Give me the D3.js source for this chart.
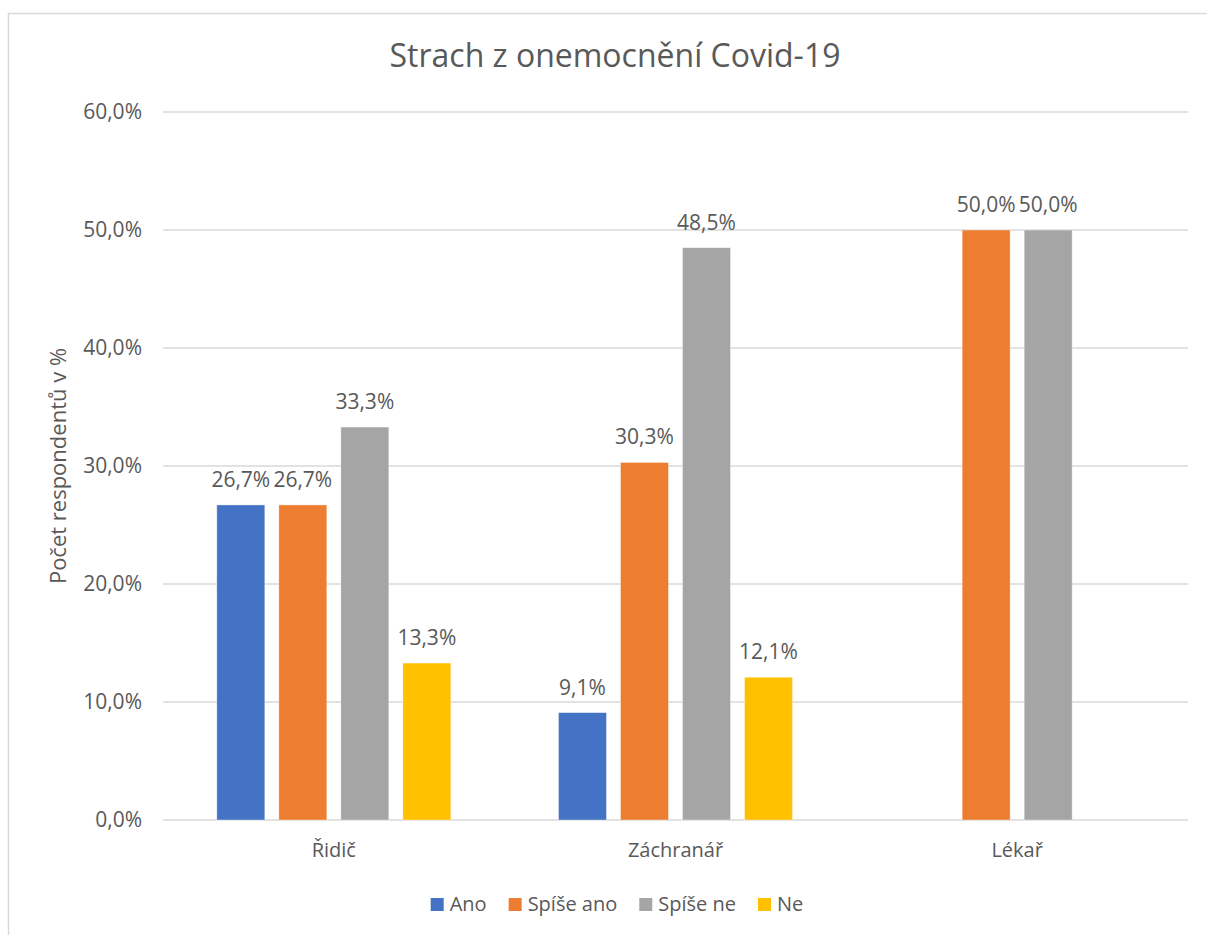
<html>
<head>
<meta charset="UTF-8">
<title>Strach z onemocnění Covid-19</title>
<style>
  body { margin: 0; background: #fff; }
  svg text { font-family: "Open Sans", "Noto Sans", sans-serif; fill: #595959; }
</style>
</head>
<body>
<svg id="chart"></svg>
<script src="https://d3js.org/d3.v7.min.js"></script>
<script>
// data
const categories = ["Řidič", "Záchranář", "Lékař"];
const seriesNames = ["Ano", "Spíše ano", "Spíše ne", "Ne"];
const seriesColors = ["#4472C4", "#ED7D31", "#A5A5A5", "#FFC000"];
// values per series, in the order of categories (null = empty cell)
const ano = [26.7, 9.1, null];
const spiseAno = [26.7, 30.3, 50.0];
const spiseNe = [33.3, 48.5, 50.0];
const ne = [13.3, 12.1, null];
const yTicks = [0, 10, 20, 30, 40, 50, 60];

const seriesValues = [ano, spiseAno, spiseNe, ne];

let width = 1207, height = 935;
let svg = d3.select("#chart").attr("width", width).attr("height", height);

const fmt = v => d3.format(".1f")(v).replace(".", ",") + "%";

// outer chart border (runs off the right/bottom like the screenshot)
svg.append("rect")
  .attr("x", 8.5).attr("y", 13.5)
  .attr("width", 1230).attr("height", 960)
  .attr("fill", "none")
  .attr("stroke", "#d9d9d9")
  .attr("stroke-width", 1.5);

let x0 = d3.scaleBand().domain(categories).range([163, 1188]);
let x1 = d3.scaleBand().domain(seriesNames).range([0, x0.bandwidth()])
  .paddingInner(0.226).paddingOuter(0.868);
let y = d3.scaleLinear().domain([0, 60]).range([820, 112]);

// gridlines
svg.append("g")
  .selectAll("line")
  .data(yTicks)
  .enter()
  .append("line")
  .attr("x1", 163).attr("x2", 1188)
  .attr("y1", d => y(d)).attr("y2", d => y(d))
  .attr("stroke", "#d9d9d9")
  .attr("stroke-width", 1.3);

// y tick labels
svg.append("g")
  .selectAll("text")
  .data(yTicks)
  .enter()
  .append("text")
  .attr("x", 142)
  .attr("y", d => y(d))
  .attr("dy", "0.35em")
  .attr("text-anchor", "end")
  .attr("font-size", "21px")
  .text(d => fmt(d));

// bars
let bars = [];
seriesNames.forEach((s, si) => {
  categories.forEach((c, ci) => {
    bars.push({ cat: c, series: s, color: seriesColors[si], value: seriesValues[si][ci] });
  });
});
bars = bars.filter(d => d.value != null);

svg.append("g")
  .selectAll("rect")
  .data(bars)
  .enter()
  .append("rect")
  .attr("x", d => x0(d.cat) + x1(d.series))
  .attr("y", d => y(d.value))
  .attr("width", x1.bandwidth())
  .attr("height", d => y(0) - y(d.value))
  .attr("fill", d => d.color)
  .attr("stroke", "#ffffff")
  .attr("stroke-opacity", 0.5)
  .attr("stroke-width", 0.75);

// data labels
svg.append("g")
  .selectAll("text")
  .data(bars)
  .enter()
  .append("text")
  .attr("x", d => x0(d.cat) + x1(d.series) + x1.bandwidth() / 2)
  .attr("y", d => y(d.value) - 18)
  .attr("text-anchor", "middle")
  .attr("font-size", "21px")
  .text(d => fmt(d.value));

// category labels
svg.append("g")
  .selectAll("text")
  .data(categories)
  .enter()
  .append("text")
  .attr("x", d => x0(d) + x0.bandwidth() / 2)
  .attr("y", 857)
  .attr("text-anchor", "middle")
  .attr("font-size", "20px")
  .text(d => d);

// title
svg.append("text")
  .attr("x", 615)
  .attr("y", 67)
  .attr("text-anchor", "middle")
  .attr("font-size", "32px")
  .text("Strach z onemocnění Covid-19");

// y axis title
svg.append("text")
  .attr("transform", "translate(66,466) rotate(-90)")
  .attr("text-anchor", "middle")
  .attr("font-size", "22px")
  .text("Počet respondentů v %");

// legend
const legendG = svg.append("g");
let lx = 0;
seriesNames.forEach((s, i) => {
  const item = legendG.append("g").attr("transform", `translate(${lx},0)`);
  item.append("rect")
    .attr("x", 0).attr("y", -13)
    .attr("width", 13).attr("height", 13)
    .attr("fill", seriesColors[i]);
  const t = item.append("text")
    .attr("x", 19).attr("y", 0)
    .attr("font-size", "20px")
    .text(s);
  lx += 19 + t.node().getComputedTextLength() + 22;
});
const legendW = lx - 22;
legendG.attr("transform", `translate(${617 - legendW / 2},911)`);
</script>
</body>
</html>
